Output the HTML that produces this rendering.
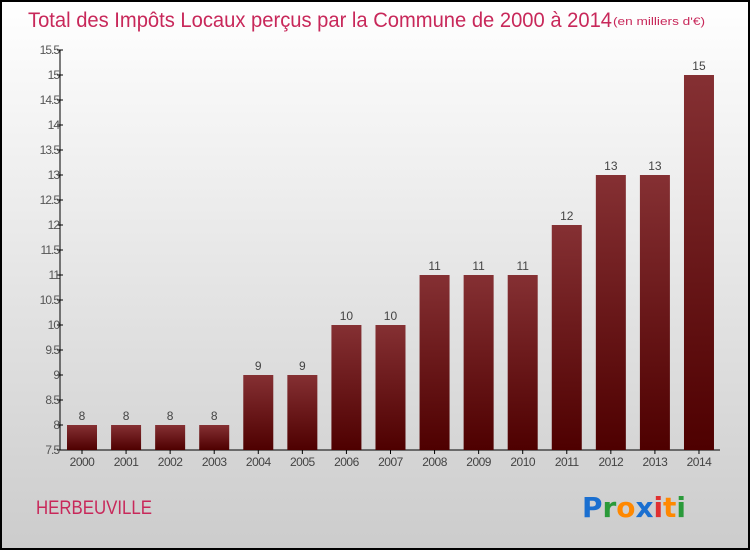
<!DOCTYPE html>
<html><head><meta charset="utf-8"><style>
html,body{margin:0;padding:0;}
body{width:750px;height:550px;overflow:hidden;font-family:"Liberation Sans",sans-serif;}
</style></head><body>
<svg width="750" height="550" xmlns="http://www.w3.org/2000/svg">
<defs>
<linearGradient id="bg" x1="0" y1="0" x2="0" y2="1"><stop offset="0" stop-color="#ffffff"/><stop offset="1" stop-color="#cccccc"/></linearGradient>
<linearGradient id="bar" x1="0" y1="0" x2="0" y2="1"><stop offset="0" stop-color="#853033"/><stop offset="1" stop-color="#4e0000"/></linearGradient>
</defs>
<rect x="1" y="1" width="748" height="548" fill="url(#bg)" stroke="#000" stroke-width="2"/>
<text x="28" y="27" font-size="21" fill="#c8285a" textLength="584" lengthAdjust="spacingAndGlyphs">Total des Impôts Locaux perçus par la Commune de 2000 à 2014</text>
<text x="613" y="25" font-size="11" fill="#c8285a" textLength="92" lengthAdjust="spacingAndGlyphs">(en milliers d'€)</text>
<text x="36" y="514" font-size="19" fill="#c8285a" textLength="116" lengthAdjust="spacingAndGlyphs">HERBEUVILLE</text>
<g font-size="28" font-weight="bold" font-family="'DejaVu Sans',sans-serif">
<text x="582" y="517" fill="#1a6fd0" textLength="104" lengthAdjust="spacingAndGlyphs">P<tspan fill="#2a9a3a">r</tspan><tspan fill="#ff8800">o</tspan><tspan fill="#1a6fd0">x</tspan><tspan fill="#e03030">i</tspan><tspan fill="#ff8800">t</tspan><tspan fill="#2a9a3a">i</tspan></text>
</g>
<g id="axes"></g>
<g id="bars"></g>
</svg>
<script>
const years=["2000","2001","2002","2003","2004","2005","2006","2007","2008","2009","2010","2011","2012","2013","2014"];
const values=[8,8,8,8,9,9,10,10,11,11,11,12,13,13,15];
const yTicks=[7.5,8,8.5,9,9.5,10,10.5,11,11.5,12,12.5,13,13.5,14,14.5,15,15.5];
const NS="http://www.w3.org/2000/svg";
const y=v=>450-(v-7.5)*50;
const x=i=>82+i*44.07;
const ax=document.getElementById('axes'),bg=document.getElementById('bars');
function mk(t,a,p){const e=document.createElementNS(NS,t);for(const k in a)e.setAttribute(k,a[k]);p.appendChild(e);return e;}
let l=mk('line',{x1:60,y1:50,x2:60,y2:450,stroke:'#000','stroke-width':1},ax);


l=mk('line',{x1:60,y1:450,x2:720,y2:450,stroke:'#000','stroke-width':1},ax);


yTicks.forEach(v=>{
 const t=mk('line',{x1:57,y1:y(v),x2:63,y2:y(v),stroke:'#000'},ax);
 
 
 const tx=mk('text',{x:59,y:y(v)+4,'text-anchor':'end','font-size':12,fill:'#555','letter-spacing':'-1'},ax);
 tx.textContent=String(v);
 
 
});
years.forEach((yr,i)=>{
 const r=mk('rect',{x:x(i)-15,y:y(values[i]),width:30,height:450-y(values[i]),fill:'url(#bar)'},bg);
 
 
 const t=mk('line',{x1:x(i),y1:450,x2:x(i),y2:454,stroke:'#000'},ax);
 
 
 const xl=mk('text',{x:x(i),y:466,'text-anchor':'middle','font-size':12,fill:'#444','letter-spacing':'-0.5'},ax);
 xl.textContent=yr;
 
 
 const vl=mk('text',{x:x(i),y:y(values[i])-5,'text-anchor':'middle','font-size':12,fill:'#444'},bg);
 vl.textContent=String(values[i]);
 
 
});
</script>
</body></html>
